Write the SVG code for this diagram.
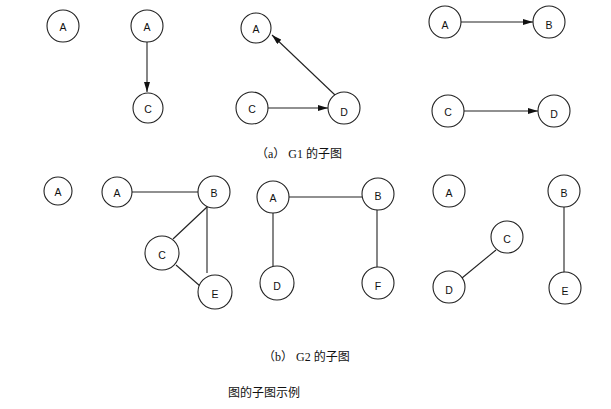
<svg xmlns="http://www.w3.org/2000/svg" width="611" height="409" viewBox="0 0 611 409">
<style>
.n circle{fill:#fff;stroke:#222;stroke-width:1.1}
.n text{font-family:"Liberation Sans",Arial,sans-serif;font-size:10.5px;fill:#111;text-anchor:middle}
.e line{stroke:#222;stroke-width:1.1}
.a line{marker-end:url(#ah)}
.cap{font-family:"Liberation Serif","Noto Sans CJK SC",serif;font-size:12px;fill:#111}
</style>
<defs>
<marker id="ah" markerWidth="10" markerHeight="6" refX="10" refY="3" orient="auto" markerUnits="userSpaceOnUse">
<path d="M0,0 L10,3 L0,6 Z" fill="#111"/>
</marker>
</defs>
<rect width="611" height="409" fill="#fff"/>
<g id="connectors" class="e">
<g class="a">
<line x1="147" y1="42" x2="147" y2="92"/>
<line x1="335" y1="95" x2="272" y2="35"/>
<line x1="268" y1="108" x2="328" y2="108"/>
<line x1="461" y1="22" x2="533" y2="22"/>
<line x1="464" y1="111" x2="538" y2="111"/>
</g>
<line x1="132" y1="192" x2="198" y2="192"/>
<line x1="207" y1="207" x2="173" y2="239"/>
<line x1="207" y1="207" x2="207" y2="273"/>
<line x1="176" y1="265" x2="200" y2="286"/>
<line x1="289" y1="197" x2="363" y2="197"/>
<line x1="273" y1="213" x2="273" y2="267"/>
<line x1="377" y1="209" x2="377" y2="268"/>
<line x1="496" y1="250" x2="462" y2="278"/>
<line x1="564" y1="207" x2="564" y2="273"/>
</g>
<g id="g1a-A" class="n"><circle cx="63" cy="26" r="16"/><text x="63" y="31">A</text></g>
<g id="g1b-A" class="n"><circle cx="147" cy="26" r="16"/><text x="147" y="31">A</text></g>
<g id="g1b-C" class="n"><circle cx="148" cy="108" r="15"/><text x="148" y="113">C</text></g>
<g id="g1c-A" class="n"><circle cx="256" cy="28" r="15"/><text x="256" y="33">A</text></g>
<g id="g1c-C" class="n"><circle cx="252" cy="108" r="16"/><text x="252" y="113">C</text></g>
<g id="g1c-D" class="n"><circle cx="344" cy="108" r="16"/><text x="344" y="116">D</text></g>
<g id="g1d-A" class="n"><circle cx="445" cy="22" r="16"/><text x="445" y="29">A</text></g>
<g id="g1d-B" class="n"><circle cx="549" cy="22" r="16"/><text x="549" y="29">B</text></g>
<g id="g1d-C" class="n"><circle cx="448" cy="111" r="16"/><text x="448" y="116">C</text></g>
<g id="g1d-D" class="n"><circle cx="554" cy="111" r="16"/><text x="554" y="118">D</text></g>
<g id="g2a-A" class="n"><circle cx="58" cy="191" r="14"/><text x="58" y="196">A</text></g>
<g id="g2b-A" class="n"><circle cx="117" cy="192" r="15"/><text x="117" y="197">A</text></g>
<g id="g2b-B" class="n"><circle cx="214" cy="192" r="16"/><text x="214" y="197">B</text></g>
<g id="g2b-C" class="n"><circle cx="162" cy="253" r="17"/><text x="162" y="259">C</text></g>
<g id="g2b-E" class="n"><circle cx="215" cy="292" r="17"/><text x="215" y="298">E</text></g>
<g id="g2c-A" class="n"><circle cx="273" cy="197" r="16"/><text x="273" y="202">A</text></g>
<g id="g2c-B" class="n"><circle cx="378" cy="194" r="16"/><text x="378" y="200">B</text></g>
<g id="g2c-D" class="n"><circle cx="277" cy="283" r="17"/><text x="277" y="290">D</text></g>
<g id="g2c-F" class="n"><circle cx="378" cy="283" r="16"/><text x="378" y="290">F</text></g>
<g id="g2d-A" class="n"><circle cx="449" cy="191" r="16"/><text x="449" y="197">A</text></g>
<g id="g2d-C" class="n"><circle cx="507" cy="237" r="16"/><text x="507" y="243">C</text></g>
<g id="g2d-D" class="n"><circle cx="449" cy="287" r="16"/><text x="449" y="294">D</text></g>
<g id="g2e-B" class="n"><circle cx="564" cy="191" r="16"/><text x="564" y="197">B</text></g>
<g id="g2e-E" class="n"><circle cx="565" cy="288" r="16"/><text x="565" y="295">E</text></g>
<text class="cap" x="256" y="158">（a） G1 的子图</text>
<text class="cap" x="263" y="361">（b） G2 的子图</text>
<text class="cap" x="228" y="397">图的子图示例</text>
</svg>
